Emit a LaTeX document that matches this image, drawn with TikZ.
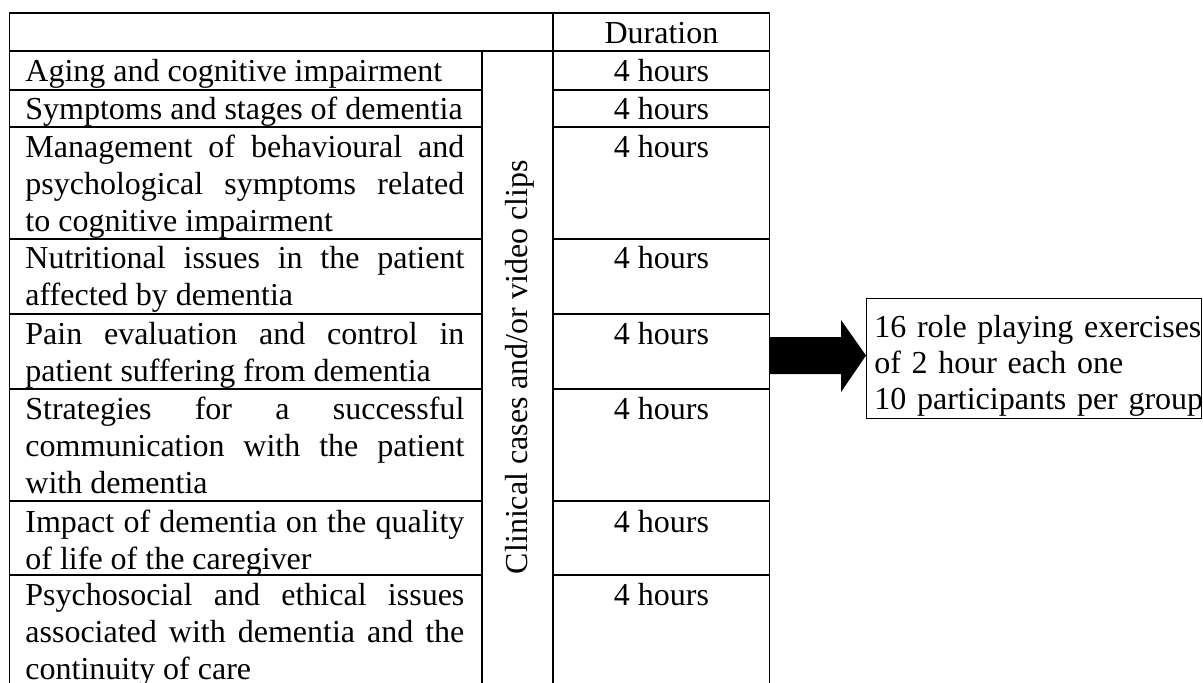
\documentclass[tikz,border=0pt]{standalone}
\usepackage{fontspec}
\setmainfont{Liberation Serif}
\hyphenpenalty=10000
\exhyphenpenalty=10000
\begin{document}
\begin{tikzpicture}[x=0.5pt,y=-0.5pt,
  font=\fontsize{16}{18.5}\selectfont,
  grid line/.style={line width=0.75pt, line cap=rect},
  cell/.style={anchor=base west, inner sep=0pt, text width=219.5pt, align=justify},
  dur/.style={anchor=base, inner sep=0pt},
  boxline/.style={line width=0.5pt},
  boxtext/.style={anchor=base west, inner sep=0pt, text width=170pt, font=\fontsize{16}{18}\selectfont}]
\useasboundingbox (0,0) rectangle (1203,682);
\clip (0,0) rectangle (1203,682);
% table frame
\draw[grid line] (9.5,13) -- (769.5,13);
\draw[grid line] (9.5,51) -- (769.5,51);
\draw[grid line] (9.5,13) -- (9.5,690);
\draw[grid line] (482,51) -- (482,690);
\draw[grid line] (553,13) -- (553,690);
\draw[grid line] (769.5,13) -- (769.5,690);
\foreach \y in {90,127,239,314,389,501,575}{
  \draw[grid line] (9.5,\y) -- (482,\y);
  \draw[grid line] (553,\y) -- (769.5,\y);
}
% header
\node[dur] (hdur) at (661.5,43) {Duration};
% topics
\node[cell] (t1) at (25,81) {Aging and cognitive impairment};
\node[cell] (t2) at (25,119) {Symptoms and stages of dementia};
\node[cell] (t3) at (25,157) {Management of behavioural and\linebreak psychological symptoms related\linebreak to cognitive impairment};
\node[cell] (t4) at (25,268) {Nutritional issues in the patient\linebreak affected by dementia};
\node[cell] (t5) at (25,344) {Pain evaluation and control in\linebreak patient suffering from dementia};
\node[cell] (t6) at (25,419) {Strategies for a successful\linebreak communication with the patient\linebreak with dementia};
\node[cell] (t7) at (25,532) {Impact of dementia on the quality\linebreak of life of the caregiver};
\node[cell] (t8) at (25,605) {Psychosocial and ethical issues\linebreak associated with dementia and the\linebreak continuity of care};
% durations
\node[dur] (d1) at (661.5,81) {4 hours};
\node[dur] (d2) at (661.5,119) {4 hours};
\node[dur] (d3) at (661.5,157) {4 hours};
\node[dur] (d4) at (661.5,268) {4 hours};
\node[dur] (d5) at (661.5,344) {4 hours};
\node[dur] (d6) at (661.5,419) {4 hours};
\node[dur] (d7) at (661.5,532) {4 hours};
\node[dur] (d8) at (661.5,605) {4 hours};
% vertical label
\node[anchor=base, inner sep=0pt, rotate=90] (clin) at (527,367) {Clinical cases and/or video clips};
% block arrow
\coordinate (as1) at (769.5,337);
\coordinate (as2) at (841,337);
\coordinate (ah1) at (841,320);
\coordinate (tip) at (866,355.5);
\coordinate (ah2) at (841,392);
\coordinate (as3) at (841,374);
\coordinate (as4) at (769.5,374);
\fill[black] (as1) -- (as2) -- (ah1) -- (tip) -- (ah2) -- (as3) -- (as4) -- cycle;
% role playing box
\draw[boxline] (866,298) rectangle (1201.5,418);
\node[boxtext] (role) at (874,337) {16 role playing exercises\\of 2 hour each one\\10 participants per group};
\end{tikzpicture}
\end{document}
